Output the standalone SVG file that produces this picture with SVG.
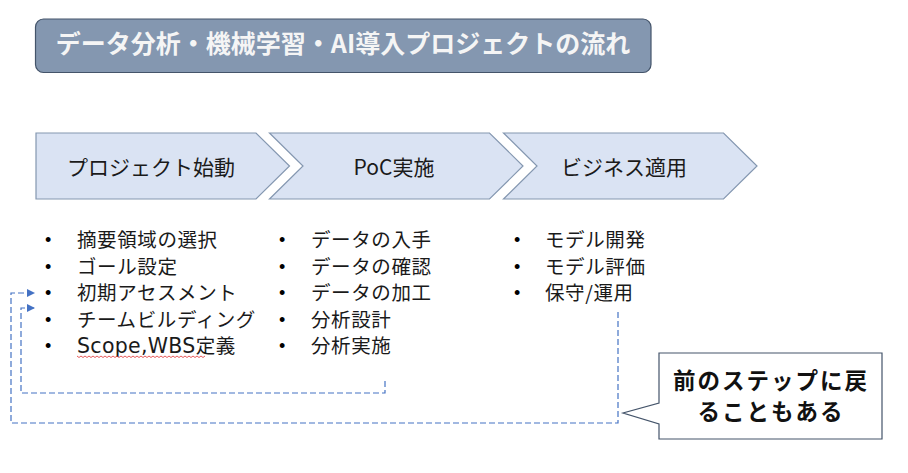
<svg xmlns="http://www.w3.org/2000/svg" width="908" height="473" viewBox="0 0 908 473">
<defs>
<style>
.jp{font-family:"Noto Sans CJK JP","Noto Sans CJK SC",sans-serif;}
.item{font-size:19.5px;fill:#1a1a1a;letter-spacing:0.6px;}
.bul{font-family:"Liberation Sans",sans-serif;font-size:18px;fill:#000;}
.chev{fill:#DAE3F3;stroke:#8497B0;stroke-width:1.2;}
.chevtxt{font-size:21px;fill:#1a1a1a;text-anchor:middle;}
.dash{fill:none;stroke:#4472C4;stroke-width:1.2;stroke-dasharray:6 3;}
.call{font-size:22.5px;font-weight:bold;fill:#111;text-anchor:middle;letter-spacing:2px;}
</style>
<marker id="arr" viewBox="0 0 10 10" refX="10" refY="5" markerWidth="9" markerHeight="8" markerUnits="userSpaceOnUse" orient="auto">
<path d="M0,0 L10,5 L0,10 Z" fill="#4472C4"/>
</marker>
</defs>
<rect width="908" height="473" fill="#fff"/>
<g id="title">
<rect x="35.5" y="19" width="615.5" height="53.5" rx="8" fill="#8497B0" stroke="#44546A" stroke-width="1.2"/>
<text class="jp" x="343" y="53" font-size="25" font-weight="bold" fill="#F5F5F5" text-anchor="middle">データ分析・機械学習・AI導入プロジェクトの流れ</text>
</g>
<g id="step1">
<path class="chev" d="M36,133 L256,133 L289.5,166 L256,199 L36,199 Z"/>
<text class="jp chevtxt" x="151" y="174.5">プロジェクト始動</text>
</g>
<g id="step2">
<path class="chev" d="M269.5,133 L489.5,133 L523,166 L489.5,199 L269.5,199 L303,166 Z"/>
<text class="jp chevtxt" x="394" y="174.5">PoC実施</text>
</g>
<g id="step3">
<path class="chev" d="M503.5,133 L723.5,133 L757,166 L723.5,199 L503.5,199 L537,166 Z"/>
<text class="jp chevtxt" x="624" y="174.5">ビジネス適用</text>
</g>
<g id="list1">
<text class="bul" x="45" y="246">•</text>
<text class="bul" x="45" y="272.5">•</text>
<text class="bul" x="45" y="299">•</text>
<text class="bul" x="45" y="325.5">•</text>
<text class="bul" x="45" y="352">•</text>
<text class="jp item" x="77" y="247">摘要領域の選択</text>
<text class="jp item" x="77" y="273.5">ゴール設定</text>
<text class="jp item" x="77" y="300">初期アセスメント</text>
<text class="jp item" x="77" y="326.5">チームビルディング</text>
<text class="jp item" x="77" y="353"><tspan font-family="DejaVu Sans, sans-serif" font-size="20.5" letter-spacing="0.3">Scope,WBS</tspan>定義</text>
<path d="M77,356 l2,1.5 l2,-1.5 l2,1.5 l2,-1.5 l2,1.5 l2,-1.5 l2,1.5 l2,-1.5 l2,1.5 l2,-1.5 l2,1.5 l2,-1.5 l2,1.5 l2,-1.5 l2,1.5 l2,-1.5 l2,1.5 l2,-1.5 l2,1.5 l2,-1.5 l2,1.5 l2,-1.5 l2,1.5 l2,-1.5 l2,1.5 l2,-1.5 l2,1.5 l2,-1.5 l2,1.5 l2,-1.5 l2,1.5 l2,-1.5 l2,1.5 l2,-1.5 l2,1.5 l2,-1.5 l2,1.5 l2,-1.5 l2,1.5 l2,-1.5 l2,1.5 l2,-1.5 l2,1.5 l2,-1.5 l2,1.5 l2,-1.5 l2,1.5 l2,-1.5 l2,1.5 l2,-1.5 l2,1.5 l2,-1.5 l2,1.5 l2,-1.5 l2,1.5 l2,-1.5 l2,1.5 l2,-1.5 l2,1.5 l2,-1.5 l2,1.5 l2,-1.5 l2,1.5 l2,-1.5" fill="none" stroke="#E03030" stroke-width="0.8"/>
</g>
<g id="list2">
<text class="bul" x="279" y="246">•</text>
<text class="bul" x="279" y="272.5">•</text>
<text class="bul" x="279" y="299">•</text>
<text class="bul" x="279" y="325.5">•</text>
<text class="bul" x="279" y="352">•</text>
<text class="jp item" x="311" y="247">データの入手</text>
<text class="jp item" x="311" y="273.5">データの確認</text>
<text class="jp item" x="311" y="300">データの加工</text>
<text class="jp item" x="311" y="326.5">分析設計</text>
<text class="jp item" x="311" y="353">分析実施</text>
</g>
<g id="list3">
<text class="bul" x="514" y="246">•</text>
<text class="bul" x="514" y="272.5">•</text>
<text class="bul" x="514" y="299">•</text>
<text class="jp item" x="545" y="247">モデル開発</text>
<text class="jp item" x="545" y="273.5">モデル評価</text>
<text class="jp item" x="545" y="300">保守/運用</text>
</g>
<g id="connectors">
<path class="dash" d="M618,312 L618,423 L11,423 L11,293 L35,293" marker-end="url(#arr)"/>
<path class="dash" d="M385,381 L385,393 L21,393 L21,308 L35,308" marker-end="url(#arr)"/>
</g>
<g id="callout">
<path d="M659,353 L882,353 L882,439 L659,439 L659,424 L623,413 L659,403 Z" fill="#fff" stroke="#44546A" stroke-width="1.2"/>
<text class="jp call" x="771" y="389">前のステップに戻</text>
<text class="jp call" x="771" y="420">ることもある</text>
</g>
</svg>
